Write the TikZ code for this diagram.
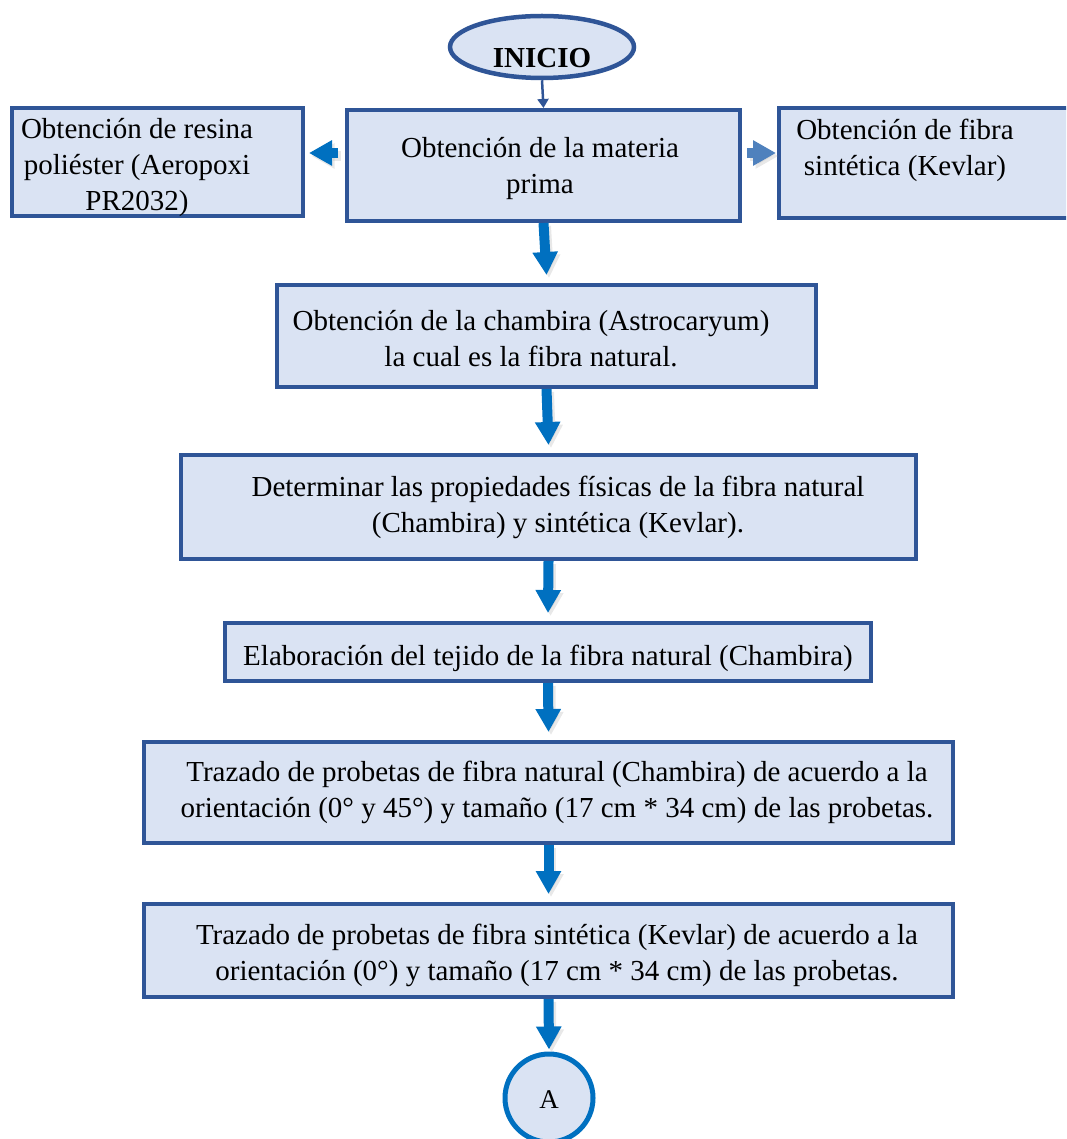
\documentclass[tikz,border=0pt]{standalone}
\usepackage{fontspec}
\setmainfont{Liberation Serif}
\usetikzlibrary{arrows.meta,shapes.geometric}
\definecolor{boxfill}{HTML}{DAE3F3}
\definecolor{boxline}{HTML}{2F5597}
\definecolor{arrblue}{HTML}{0070C0}
\definecolor{arrlight}{HTML}{4F81BD}
\tikzset{
  procbox/.style={draw=boxline, line width=4pt, fill=boxfill, inner sep=0pt},
  txt/.style={inner sep=0pt, align=center, font=\fontsize{29}{36}\selectfont},
  blockarrow/.style={draw=arrblue, line width=10pt, -{Triangle[width=24pt,length=23pt]}},
  blockarrowlight/.style={blockarrow, draw=arrlight},
  arrshadow/.style={blockarrow, draw=black!30, opacity=0.3, transform canvas={xshift=2.5pt,yshift=-3pt}},
  thinarrow/.style={draw=boxline, line width=2.5pt, -{Triangle[width=11pt,length=9pt]}}
}
\newcommand{\blockarr}[3][blockarrow]{\draw[arrshadow] #2 -- #3; \draw[#1] #2 -- #3;}
\begin{document}
\begin{tikzpicture}[x=1pt,y=-1pt]
\useasboundingbox (0,0) rectangle (1066,1139);
\begin{scope}
\clip (0,0) rectangle (1066,1139);
% start ellipse
\node[draw=boxline, line width=4.5pt, fill=boxfill, ellipse, minimum width=184pt, minimum height=62pt, inner sep=0pt] (ini) at (542,47) {};
\node[txt, font=\fontsize{29}{36}\selectfont\bfseries] (initxt) at (542,58) {INICIO};
% boxes
\node[procbox, minimum width=393pt, minimum height=111pt] (b1) at (543.5,165.5) {};
\node[procbox, minimum width=291pt, minimum height=108pt] (L) at (157.5,162) {};
\node[procbox, minimum width=299pt, minimum height=110pt] (R) at (928.5,163) {};
\node[procbox, minimum width=539pt, minimum height=102pt] (b2) at (546.5,336) {};
\node[procbox, minimum width=735pt, minimum height=104pt] (b3) at (548.5,507) {};
\node[procbox, minimum width=646pt, minimum height=58pt] (b4) at (548,652) {};
\node[procbox, minimum width=809pt, minimum height=101pt] (b5) at (548.5,792.5) {};
\node[procbox, minimum width=809pt, minimum height=93pt] (b6) at (548.5,950.5) {};
\node[draw=arrblue, line width=5pt, fill=boxfill, circle, minimum size=88pt, inner sep=0pt] (A) at (549,1098) {};
% texts
\node[txt] (t1) at (540,169) {Obtención de la materia\\prima};
\node[txt] (tL) at (137,168) {Obtención de resina\\poliéster (Aeropoxi\\PR2032)};
\node[txt] (tR) at (905,150) {Obtención de fibra\\sintética (Kevlar)};
\node[txt] (t2) at (531,339) {Obtención de la chambira (Astrocaryum)\\la cual es la fibra natural.};
\node[txt] (t3) at (558,507) {Determinar las propiedades físicas de la fibra natural\\(Chambira) y sintética (Kevlar).};
\node[txt] (t4) at (548,658) {Elaboración del tejido de la fibra natural (Chambira)};
\node[txt] (t5) at (557,792) {Trazado de probetas de fibra natural (Chambira) de acuerdo a la\\orientación (0° y 45°) y tamaño (17 cm * 34 cm) de las probetas.};
\node[txt] (t6) at (557,955) {Trazado de probetas de fibra sintética (Kevlar) de acuerdo a la\\orientación (0°) y tamaño (17 cm * 34 cm) de las probetas.};
\node[txt, font=\fontsize{27}{30}\selectfont] (tA) at (549,1100) {A};
% connectors
\draw[thinarrow] (ini.south) -- (b1.north);
\coordinate (la) at ([yshift=12.5pt]b1.west);
\coordinate (lb) at (la -| L.east);
\coordinate (ra) at ([yshift=12.5pt]b1.east);
\coordinate (rb) at (ra -| R.west);
\blockarr{([xshift=-7pt]la)}{([xshift=4pt]lb)}
\blockarr[blockarrowlight]{([xshift=5pt]ra)}{([xshift=-1pt]rb)}
\blockarr{(b1.south)}{([yshift=8pt]b2.north)}
\blockarr{(b2.south)}{([yshift=8pt]b3.north)}
\blockarr{(b3.south)}{([yshift=8pt]b4.north)}
\blockarr{(b4.south)}{([yshift=8pt]b5.north)}
\blockarr{(b5.south)}{([yshift=8pt]b6.north)}
\blockarr{(b6.south)}{([yshift=2pt]A.north)}
\end{scope}
\end{tikzpicture}
\end{document}
